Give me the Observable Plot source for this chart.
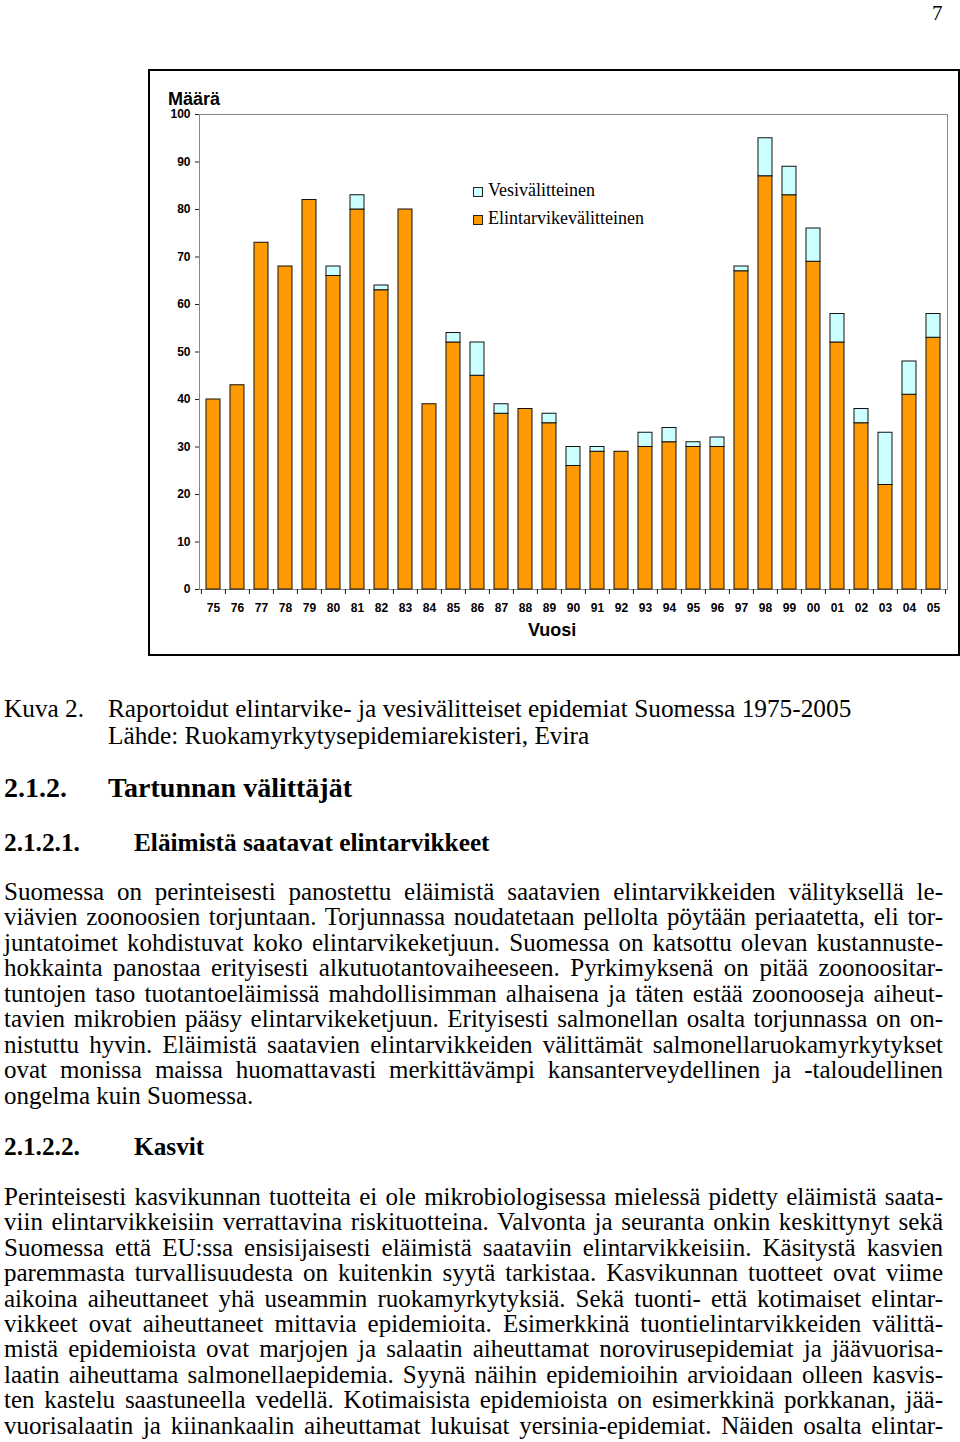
<!DOCTYPE html>
<html><head><meta charset="utf-8">
<script src="https://cdn.jsdelivr.net/npm/d3@7"></script>
<script src="https://cdn.jsdelivr.net/npm/@observablehq/plot@0.6"></script>
<style>
body{margin:0;background:#fff;}
#page{position:relative;width:960px;height:1442px;overflow:hidden;background:#fff;font-family:"Liberation Serif","Times New Roman",serif;color:#000;}
.ln{position:absolute;white-space:nowrap;line-height:normal;}
.sans{font-family:"Liberation Sans",Arial,sans-serif;font-weight:bold;}
#box{position:absolute;left:148px;top:69px;width:812px;height:587px;border:2px solid #000;box-sizing:border-box;}
#chart{position:absolute;left:150px;top:71px;}
.sw{position:absolute;width:8px;height:8px;border:1px solid #222;}
</style></head><body><div id="page"><div id="box"></div><div id="chart"></div></div>
<script>
// ---- chart data ----
const years = ["75","76","77","78","79","80","81","82","83","84","85","86","87","88","89","90","91","92","93","94","95","96","97","98","99","00","01","02","03","04","05"];
const food  = [40,43,73,68,82,66,80,63,80,39,52,45,37,38,35,26,29,29,30,31,30,30,67,87,83,69,52,35,22,41,53];
const water = [0,0,0,0,0,2,3,1,0,0,2,7,2,0,2,4,1,0,3,3,1,2,1,8,6,7,6,3,11,7,5];
const seriesNames = ["Elintarvikevälitteinen","Vesivälitteinen"];
const seriesColors = ["#FF9900","#CCFFFF"];
const yTicks = [0,10,20,30,40,50,60,70,80,90,100];
const yLabel = "Määrä";
const xLabel = "Vuosi";

// ---- page text ----
const pageNumber = "7";
const captionLines = [["Kuva 2.","Raportoidut elintarvike- ja vesivälitteiset epidemiat Suomessa 1975-2005"],["","Lähde: Ruokamyrkytysepidemiarekisteri, Evira"]];
const heading1 = ["2.1.2.","Tartunnan välittäjät"];
const heading2 = ["2.1.2.1.","Eläimistä saatavat elintarvikkeet"];
const heading3 = ["2.1.2.2.","Kasvit"];
const para1 = [
"Suomessa on perinteisesti panostettu eläimistä saatavien elintarvikkeiden välityksellä le-",
"viävien zoonoosien torjuntaan. Torjunnassa noudatetaan pellolta pöytään periaatetta, eli tor-",
"juntatoimet kohdistuvat koko elintarvikeketjuun. Suomessa on katsottu olevan kustannuste-",
"hokkainta panostaa erityisesti alkutuotantovaiheeseen. Pyrkimyksenä on pitää zoonoositar-",
"tuntojen taso tuotantoeläimissä mahdollisimman alhaisena ja täten estää zoonooseja aiheut-",
"tavien mikrobien pääsy elintarvikeketjuun. Erityisesti salmonellan osalta torjunnassa on on-",
"nistuttu hyvin. Eläimistä saatavien elintarvikkeiden välittämät salmonellaruokamyrkytykset",
"ovat monissa maissa huomattavasti merkittävämpi kansanterveydellinen ja -taloudellinen",
"ongelma kuin Suomessa."];
const para2 = [
"Perinteisesti kasvikunnan tuotteita ei ole mikrobiologisessa mielessä pidetty eläimistä saata-",
"viin elintarvikkeisiin verrattavina riskituotteina. Valvonta ja seuranta onkin keskittynyt sekä",
"Suomessa että EU:ssa ensisijaisesti eläimistä saataviin elintarvikkeisiin. Käsitystä kasvien",
"paremmasta turvallisuudesta on kuitenkin syytä tarkistaa. Kasvikunnan tuotteet ovat viime",
"aikoina aiheuttaneet yhä useammin ruokamyrkytyksiä. Sekä tuonti- että kotimaiset elintar-",
"vikkeet ovat aiheuttaneet mittavia epidemioita. Esimerkkinä tuontielintarvikkeiden välittä-",
"mistä epidemioista ovat marjojen ja salaatin aiheuttamat norovirusepidemiat ja jäävuorisa-",
"laatin aiheuttama salmonellaepidemia. Syynä näihin epidemioihin arvioidaan olleen kasvis-",
"ten kastelu saastuneella vedellä. Kotimaisista epidemioista on esimerkkinä porkkanan, jää-",
"vuorisalaatin ja kiinankaalin aiheuttamat lukuisat yersinia-epidemiat. Näiden osalta elintar-"];

// ---- chart ----
const W = 808, H = 583, mL = 49, mR = 11, mT = 43, mB = 65;
const step = (W - mL - mR) / years.length;
const rows = years.flatMap((y, i) => [
  {year: y, series: seriesNames[0], value: food[i]},
  {year: y, series: seriesNames[1], value: water[i]}
]).filter(d => d.value > 0);

const chart = Plot.plot({
  width: W, height: H, marginLeft: mL, marginRight: mR, marginTop: mT, marginBottom: mB,
  style: {fontFamily: "'Liberation Sans', Arial, sans-serif", fontWeight: "bold", fontSize: "12px", color: "#000", background: "transparent"},
  x: {type: "band", domain: years, paddingInner: 0.43, paddingOuter: 0.215, align: 0.5},
  y: {domain: [0, 100]},
  color: {domain: seriesNames, range: seriesColors},
  marks: [
    Plot.frame({stroke: "#8a8a8a"}),
    Plot.barY(rows, {x: "year", y: "value", fill: "series", order: seriesNames, stroke: "#111", strokeWidth: 1}),
    Plot.axisY({ticks: yTicks, tickSize: 4, tickPadding: 5, line: true, label: null, fontSize: 12, stroke: "#222"}),
    Plot.axisX({tickSize: 5, dx: -step / 2, tickFormat: () => "", label: null, stroke: "#222"}),
    Plot.axisX({ticks: [years[years.length - 1]], tickSize: 5, dx: step / 2, tickFormat: () => "", label: null, stroke: "#222"}),
    Plot.axisX({tickSize: 0, tickPadding: 14, label: null, line: true, fontSize: 12, stroke: "#222"})
  ]
});
document.getElementById("chart").appendChild(chart);

// ---- helpers ----
const page = document.getElementById("page");
function addText(t, x, base, size, opts = {}) {
  const d = document.createElement("div");
  d.className = "ln" + (opts.sans ? " sans" : "");
  d.textContent = t;
  d.style.fontSize = size + "px";
  if (opts.bold) d.style.fontWeight = "bold";
  d.style.left = x + "px";
  const asc = opts.sans ? 0.905 : 0.891;
  d.style.top = (base - asc * size) + "px";
  if (opts.sans) { d.style.lineHeight = "1"; d.style.top = (base - 0.84 * size) + "px"; }
  page.appendChild(d);
  if (opts.justifyTo) {
    const w = d.getBoundingClientRect().width;
    const spaces = (t.match(/ /g) || []).length;
    if (spaces > 0) d.style.wordSpacing = ((opts.justifyTo - w) / spaces) + "px";
  }
  return d;
}

// chart labels
addText(yLabel, 168, 105, 18, {sans: true});
addText(xLabel, 528, 636.5, 18, {sans: true});

// legend
const legendItems = [seriesNames[1], seriesNames[0]];
const legendColors = [seriesColors[1], seriesColors[0]];
legendItems.forEach((name, i) => {
  const base = 196.5 + i * 28;
  const s = document.createElement("div");
  s.className = "sw";
  s.style.left = "473px";
  s.style.top = (base - 9.5) + "px";
  s.style.background = legendColors[i];
  page.appendChild(s);
  addText(name, 488, base, 18);
});

// page text
const BODY = 25;
addText(pageNumber, 932, 19.5, 21);
captionLines.forEach((pair, i) => {
  const base = 717 + i * 27;
  if (pair[0]) addText(pair[0], 4, base, 25.3);
  addText(pair[1], 108, base, 25.3);
});
addText(heading1[0], 4, 797, 28, {bold: true});
addText(heading1[1], 108, 797, 28, {bold: true});
addText(heading2[0], 4, 851, 25.3, {bold: true});
addText(heading2[1], 134, 851, 25.3, {bold: true});
para1.forEach((t, i) => addText(t, 4, 900 + i * 25.5, BODY, i < para1.length - 1 ? {justifyTo: 939} : {}));
addText(heading3[0], 4, 1155, 25.3, {bold: true});
addText(heading3[1], 134, 1155, 25.3, {bold: true});
para2.forEach((t, i) => addText(t, 4, 1205 + i * 25.45, BODY, {justifyTo: 939}));
</script></body></html>
